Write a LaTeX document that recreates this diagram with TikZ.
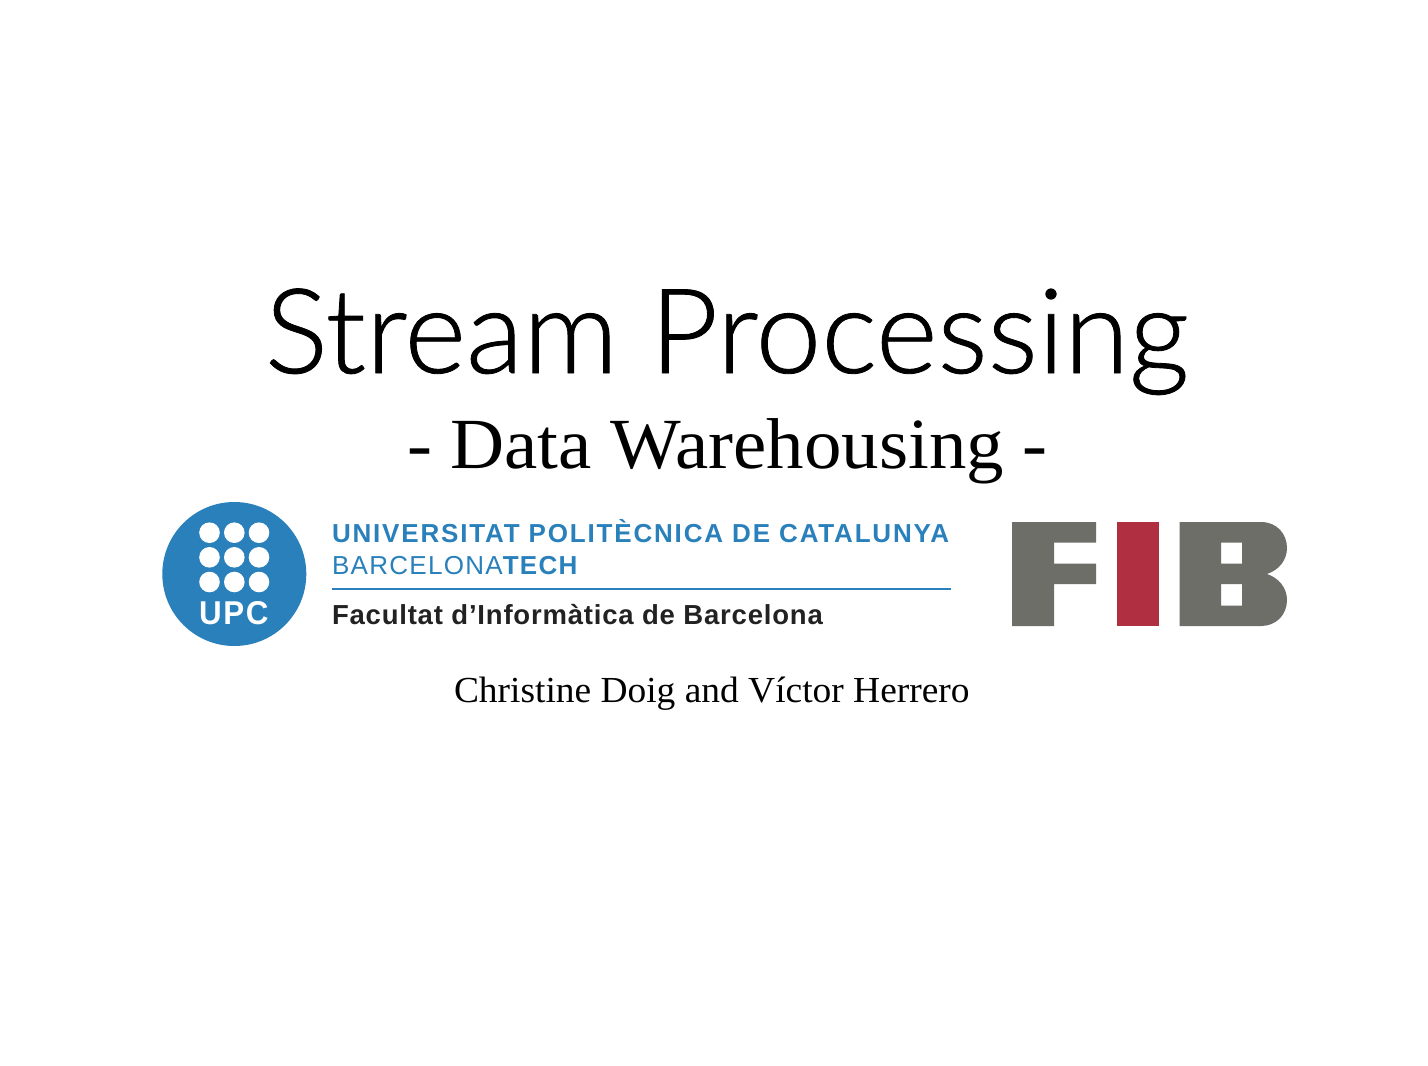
\documentclass[tikz,border=0pt]{standalone}
\usepackage{fontspec}
\setmainfont{Liberation Serif}
\newfontfamily\titlefont[FakeBold=0.7]{Lato Light}
\newfontfamily\subfont[FakeStretch=1.04]{Liberation Serif}
\newfontfamily\authfont[FakeStretch=1.02]{Liberation Serif}
\newfontfamily\logofont[LetterSpace=5]{Liberation Sans}
\newfontfamily\logospaced[LetterSpace=7]{Liberation Sans}
\newfontfamily\factfont[LetterSpace=2.9]{Liberation Sans}
\newfontfamily\upcfont[FakeStretch=0.95,LetterSpace=5]{Liberation Sans Bold}
\definecolor{upcblue}{HTML}{2980BB}
\definecolor{fibgrey}{HTML}{6E6E68}
\definecolor{fibred}{HTML}{B03042}
\definecolor{logoblack}{HTML}{222222}
\tikzset{
  txt/.style={inner sep=0pt,outer sep=0pt,anchor=base west},
  dot/.style={circle,fill=white,draw=none,minimum size=20.6pt,inner sep=0pt}
}
\begin{document}
\begin{tikzpicture}[x=1pt,y=-1pt]
\useasboundingbox (0,0) rectangle (1428,1066);
\fill[white] (0,0) rectangle (1428,1066);
\node[txt] (title) at (265,373) {\fontsize{118}{120}\titlefont Stream Processing};
\node[txt] (sub) at (407,468) {\fontsize{72}{74}\subfont - Data Warehousing -};
\node[txt] (auth) at (454,702) {\fontsize{36.7}{40}\authfont Christine Doig and Víctor Herrero};
% UPC
\node[circle,fill=upcblue,minimum size=144pt,inner sep=0pt] (upc) at (234.3,574) {};
\foreach \c/\x in {a/209.5,b/234.3,c/259}{
  \foreach \r/\y in {1/532.7,2/557.3,3/582}{
    \node[dot] (d\c\r) at (\x,\y) {};
  }
}
\node[txt,text=white] (upct) at (199,624.5) {\fontsize{33}{36}\upcfont UPC};
\node[txt,text=upcblue] (l1) at (332,542.5) {\fontsize{26}{28}\logospaced\bfseries UNIVERSITAT POLITÈCNICA DE CATALUNYA};
\node[txt,text=upcblue] (l2) at (332,574) {\fontsize{26}{28}\logofont BARCELONA\bfseries TECH};
\draw[upcblue,line width=2pt] (332,588.5) -- (951,588.5);
\node[txt,text=logoblack] (l3) at (332,624) {\fontsize{27.5}{29}\factfont\bfseries Facultat d’Informàtica de Barcelona};
% FIB
\fill[fibgrey] (1012,522) -- (1096,522) -- (1096,542.5) -- (1054,542.5) -- (1054,563.5) -- (1096,563.5) -- (1096,584) -- (1054,584) -- (1054,626) -- (1012,626) -- cycle;
\fill[fibred] (1117,522) rectangle (1158.5,626);
\fill[fibgrey,even odd rule] (1179.5,522) -- (1261,522) .. controls (1277,522) and (1287,534) .. (1287,548) .. controls (1287,560) and (1279,570) .. (1267,574) .. controls (1279,578) and (1287,588) .. (1287,600) .. controls (1287,615) and (1276,626) .. (1261,626) -- (1179.5,626) -- cycle
 (1221,542.5) rectangle (1242,563.5) (1221,584) rectangle (1242,605.5);
\end{tikzpicture}
\end{document}
